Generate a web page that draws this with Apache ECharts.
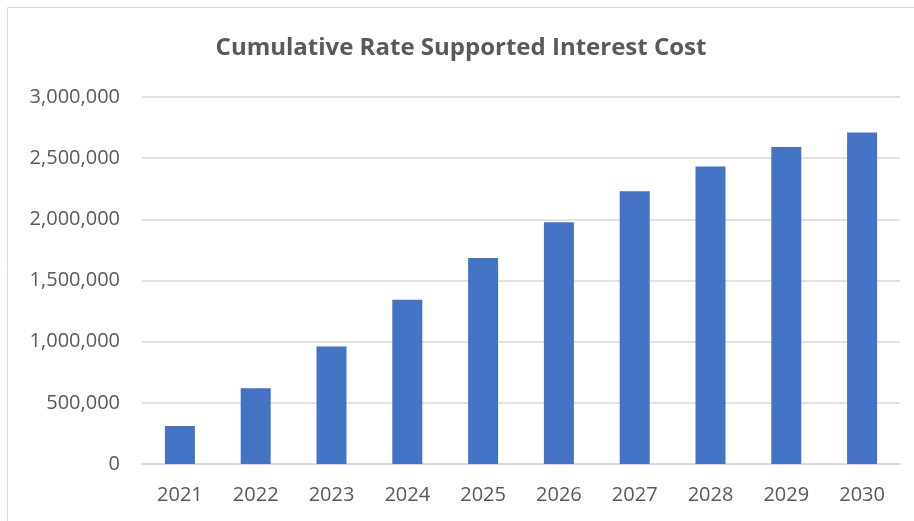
<!DOCTYPE html>
<html>
<head>
<meta charset="utf-8">
<script src="https://cdn.jsdelivr.net/npm/echarts@6/dist/echarts.min.js"></script>
<style>
  html, body { margin: 0; padding: 0; background: #fff; }
  #chart { width: 914px; height: 521px; }
</style>
</head>
<body>
<div id="chart"></div>
<script>
// data
const years = ['2021', '2022', '2023', '2024', '2025', '2026', '2027', '2028', '2029', '2030']
const cumulativeCost = [310000, 620000, 960000, 1342000, 1683000, 1977000, 2230000, 2431000, 2592000, 2709000]
const yTicks = { min: 0, max: 3000000, interval: 500000 }

const textColor = '#595959'
const lineColor = '#d9d9d9'

const chart = echarts.init(document.getElementById('chart'))
const option = {
  animation: false,
  title: {
    text: 'Cumulative Rate Supported Interest Cost',
    left: 456,
    textAlign: 'center',
    top: 31,
    textStyle: {
      color: textColor,
      fontFamily: 'Open Sans',
      fontWeight: 'bold',
      fontSize: 24
    }
  },
  // chart frame, like the Excel chart area border
  graphic: [{
    type: 'rect',
    shape: { x: 7.5, y: 7.5, width: 1000, height: 1000 },
    style: { fill: 'none', stroke: lineColor, lineWidth: 1 },
    silent: true
  }],
  grid: {
    left: 142,
    right: 14,
    top: 97,
    bottom: 57,
    containLabel: false
  },
  xAxis: {
    type: 'category',
    data: years,
    axisTick: { show: false },
    axisLine: { lineStyle: { color: lineColor, width: 1.5 } },
    axisLabel: {
      color: textColor,
      fontFamily: 'Open Sans',
      fontSize: 20,
      margin: 21
    }
  },
  yAxis: {
    type: 'value',
    min: yTicks.min,
    max: yTicks.max,
    interval: yTicks.interval,
    axisLine: { show: false },
    axisTick: { show: false },
    axisLabel: {
      color: textColor,
      fontFamily: 'Open Sans',
      fontSize: 20,
      margin: 22,
      formatter: function (v) {
        return v.toLocaleString('en-US')
      }
    },
    splitLine: { lineStyle: { color: lineColor, width: 1.5 } }
  },
  series: [{
    name: 'Cumulative Cost',
    type: 'bar',
    data: cumulativeCost,
    barWidth: 30,
    itemStyle: { color: '#4472c4' }
  }]
}
chart.setOption(option)
window.addEventListener('resize', function () { chart.resize() })
</script>
</body>
</html>
